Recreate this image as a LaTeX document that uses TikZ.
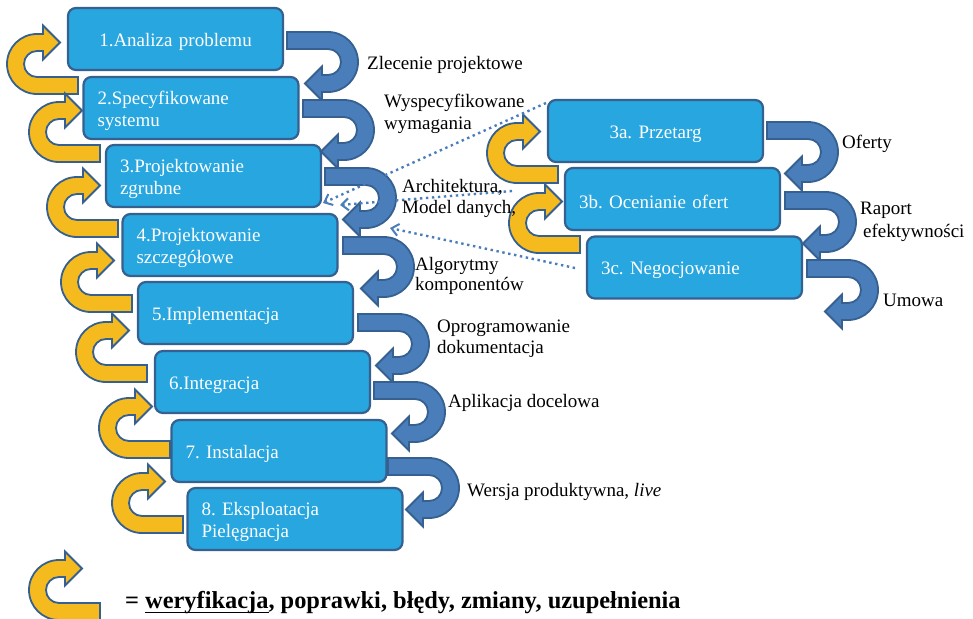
\documentclass[tikz,border=0pt]{standalone}
\usepackage{fontspec}
\setmainfont{Liberation Serif}
\usetikzlibrary{arrows.meta}
\frenchspacing

\definecolor{boxfill}{HTML}{27A6DF}
\definecolor{boxline}{HTML}{35608F}
\definecolor{flowblue}{HTML}{4A7EBB}
\definecolor{loopyellow}{HTML}{F5BB1E}

% thick underline that cuts through descenders
\newsavebox{\ulbox}
\newcommand{\thickul}[1]{\sbox{\ulbox}{#1}\rlap{\rule[-5.4pt]{\wd\ulbox}{1.8pt}}\usebox{\ulbox}}

\tikzset{
  stagebox/.style={draw=boxline, fill=boxfill, line width=2.2pt, rounded corners=8pt,
    minimum width=215pt, minimum height=62pt, text width=187pt, inner xsep=14pt,
    inner ysep=0pt, align=left, text=white, font=\fontsize{19}{22}\selectfont,
    execute at begin node={\rule{0pt}{19pt}}},
  centred/.style={align=center},
  flowarrow/.style={draw=boxline, fill=flowblue, line width=1.8pt},
  looparrow/.style={draw=boxline, fill=loopyellow, line width=1.8pt},
  reuse/.style={draw=flowblue, line width=2.4pt, dash pattern=on 2.4pt off 3.6pt,
    -{Straight Barb[length=7pt,width=12pt,line width=2pt]}},
  lbl/.style={anchor=base west, inner sep=0pt, font=\fontsize{19}{22}\selectfont},
  % U-turn arrow: tail at the top-left (origin), turns clockwise, head points back
  uturn/.pic={
    \path[#1] (0,0) -- (41,0) arc[start angle=-90, end angle=90, radius=30]
      -- (35,60) -- (35,68.5) -- (18,51.5) -- (35,34.5) -- (35,43) -- (41,43)
      arc[start angle=90, end angle=-90, radius=13] -- (0,17) -- cycle;
  }
}

\begin{document}
\begin{tikzpicture}[x=1pt, y=-1pt]
\clip (0,0) rectangle (973,618);
\fill[white] (0,0) rectangle (973,618);

% main sequence of stages
\node[stagebox, centred] (s1) at (175.5,39) {1.Analiza problemu};
\node[stagebox] (s2) at (191,108) {2.Specyfikowane\\systemu};
\node[stagebox] (s3) at (213.5,176) {3.Projektowanie\\zgrubne};
\node[stagebox] (s4) at (230,245) {4.Projektowanie\\szczegółowe};
\node[stagebox] (s5) at (245.5,313) {5.Implementacja};
\node[stagebox] (s6) at (262.5,382) {6.Integracja};
\node[stagebox] (s7) at (279,451) {7. Instalacja};
\node[stagebox] (s8) at (295,519) {8. Eksploatacja\\Pielęgnacja};

% purchasing branch
\node[stagebox, centred] (t1) at (655.5,131) {3a. Przetarg};
\node[stagebox] (t2) at (672.5,199) {3b. Ocenianie ofert};
\node[stagebox] (t3) at (694.5,267.5) {3c. Negocjowanie};

% forward flow arrows
\pic at (287,32) {uturn=flowarrow};
\pic at (303,100) {uturn=flowarrow};
\pic at (325,168) {uturn=flowarrow};
\pic at (343,237) {uturn=flowarrow};
\pic at (358,314) {uturn=flowarrow};
\pic at (374,382) {uturn=flowarrow};
\pic at (388,458) {uturn=flowarrow};
\pic at (767,122) {uturn=flowarrow};
\pic at (785,192) {uturn=flowarrow};
\pic at (807,260) {uturn=flowarrow};

% feedback loops
\pic[rotate=180] at (78,94) {uturn=looparrow};
\pic[rotate=180] at (100,162) {uturn=looparrow};
\pic[rotate=180] at (118,237) {uturn=looparrow};
\pic[rotate=180] at (132,312) {uturn=looparrow};
\pic[rotate=180] at (147,382) {uturn=looparrow};
\pic[rotate=180] at (170,458) {uturn=looparrow};
\pic[rotate=180] at (183,533) {uturn=looparrow};
\pic[rotate=180] at (558,183) {uturn=looparrow};
\pic[rotate=180] at (580,253) {uturn=looparrow};

% dotted links back into the design stages
\coordinate (q1) at (546,103); \coordinate (p1) at (323,203);
\coordinate (q2) at (512,191); \coordinate (p2) at (340,205);
\coordinate (q3) at (575,268); \coordinate (p3) at (390,228);
\draw[reuse] (q1) -- (p1);
\draw[reuse] (q2) -- (p2);
\draw[reuse] (q3) -- (p3);

% products passed between stages
\node[lbl] (l1) at (367,70) {Zlecenie projektowe};
\node[lbl] (l2a) at (384,107) {Wyspecyfikowane};
\node[lbl] (l2b) at (384,129) {wymagania};
\node[lbl] (l3a) at (402,192) {Architektura,};
\node[lbl] (l3b) at (402,213) {Model danych,};
\node[lbl] (l4a) at (415,270) {Algorytmy};
\node[lbl] (l4b) at (415,290) {komponentów};
\node[lbl] (l5a) at (437,332) {Oprogramowanie};
\node[lbl] (l5b) at (437,353) {dokumentacja};
\node[lbl] (l6) at (448,407) {Aplikacja docelowa};
\node[lbl] (l7) at (467,496) {Wersja produktywna, \textit{live}};
\node[lbl] (m1) at (842,148) {Oferty};
\node[lbl] (m2a) at (860,214) {Raport};
\node[lbl] (m2b) at (863,237) {efektywności};
\node[lbl] (m3) at (883,306) {Umowa};

% legend
\pic[rotate=180] at (100,620) {uturn=looparrow};
\node[anchor=base west, inner sep=0pt, font=\fontsize{24.4}{28}\selectfont\bfseries] (legend) at (125,608)
  {= \thickul{weryfikacja}, poprawki, błędy, zmiany, uzupełnienia};
\end{tikzpicture}
\end{document}
